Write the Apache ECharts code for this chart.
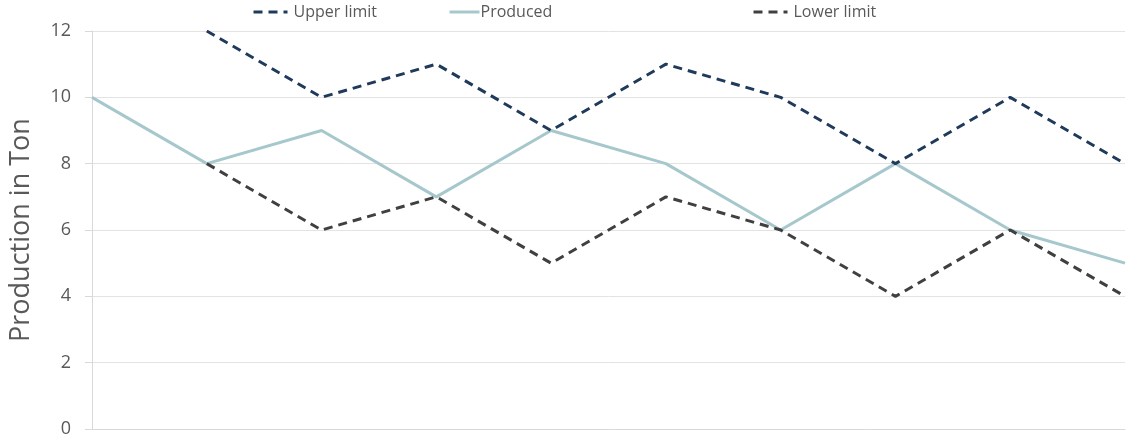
<!DOCTYPE html>
<html>
<head>
<meta charset="utf-8">
<script src="https://cdn.jsdelivr.net/npm/echarts@6/dist/echarts.min.js"></script>
<style>
  html, body { margin: 0; padding: 0; background: #ffffff; }
  #chart { width: 1128px; height: 443px; }
</style>
</head>
<body>
<div id="chart"></div>
<script>
// Periods along the x axis (no labels shown)
const periods = ['P1', 'P2', 'P3', 'P4', 'P5', 'P6', 'P7', 'P8', 'P9', 'P10'];
// Tonnage values per period
const upperLimit = [null, 12, 10, 11, 9, 11, 10, 8, 10, 8];
const produced   = [10, 8, 9, 7, 9, 8, 6, 8, 6, 5];
const lowerLimit = [null, 8, 6, 7, 5, 7, 6, 4, 6, 4];
// Y axis ticks
const yTicks = [0, 2, 4, 6, 8, 10, 12];

const FONT = '"Open Sans", "Liberation Sans", sans-serif';
const TEXT = '#595959';

const chart = echarts.init(document.getElementById('chart'), null, { renderer: 'canvas' });

function legendAt(name, left, width, textPad) {
  return {
    data: [name],
    left: left,
    top: 2,
    padding: 2,
    itemWidth: width,
    itemHeight: 14,
    itemStyle: { opacity: 0 },
    lineStyle: { width: 3 },
    textStyle: { fontFamily: FONT, fontSize: 16, color: TEXT, padding: [0, 0, 0, textPad] }
  };
}

chart.setOption({
  animation: false,
  legend: [
    legendAt('Upper limit', 250, 34, 1),
    legendAt('Produced', 446, 30, -4),
    legendAt('Lower limit', 750, 34, 1)
  ],
  grid: { left: 89, right: 3, top: 31, bottom: 14, containLabel: false },
  xAxis: {
    type: 'category',
    data: periods,
    boundaryGap: false,
    axisLine: { show: true, lineStyle: { color: '#d9d9d9', width: 1 } },
    axisTick: { show: false },
    axisLabel: { show: false },
    splitLine: { show: false }
  },
  yAxis: {
    type: 'value',
    min: yTicks[0],
    max: yTicks[yTicks.length - 1],
    interval: 2,
    name: 'Production in Ton',
    nameLocation: 'middle',
    nameRotate: 90,
    nameGap: 57,
    nameTextStyle: { fontFamily: FONT, fontSize: 27, color: TEXT },
    axisLine: { show: true, lineStyle: { color: '#d9d9d9', width: 1 } },
    axisTick: { show: true, length: 7, lineStyle: { color: '#d9d9d9' } },
    axisLabel: { fontFamily: FONT, fontSize: 18, color: TEXT, margin: 21 },
    splitLine: { show: true, lineStyle: { color: '#e3e3e3', width: 1 } }
  },
  series: [
    {
      name: 'Upper limit',
      type: 'line',
      data: upperLimit,
      symbol: 'none',
      connectNulls: false,
      itemStyle: { color: '#1f3a5a' },
      lineStyle: { color: '#1f3a5a', width: 3, type: [9, 6] },
      z: 3
    },
    {
      name: 'Produced',
      type: 'line',
      data: produced,
      symbol: 'none',
      itemStyle: { color: '#a6c8cc' },
      lineStyle: { color: '#a6c8cc', width: 3, type: 'solid' },
      z: 2
    },
    {
      name: 'Lower limit',
      type: 'line',
      data: lowerLimit,
      symbol: 'none',
      itemStyle: { color: '#404040' },
      lineStyle: { color: '#404040', width: 3, type: [9, 6] },
      z: 3
    }
  ]
});
</script>
</body>
</html>
